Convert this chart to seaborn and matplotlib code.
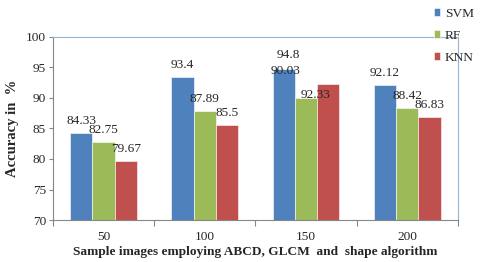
import numpy as np
import pandas as pd
import matplotlib
matplotlib.use("Agg")
import matplotlib.pyplot as plt
import seaborn as sns

# data
samples = ["50", "100", "150", "200"]
svm = [84.33, 93.4, 94.8, 92.12]
rf = [82.75, 87.89, 90.03, 88.42]
knn = [79.67, 85.5, 92.33, 86.83]
methods = ["SVM", "RF", "KNN"]
colors = ["#4F81BD", "#9BBB59", "#C0504D"]
yticks = [70, 75, 80, 85, 90, 95, 100]

sns.set_style("white")
plt.rcParams['font.family'] = ['Liberation Serif', 'DejaVu Serif']
plt.rcParams['font.size'] = 9.6

df = pd.DataFrame({
    "sample": samples * 3,
    "method": [m for m in methods for _ in samples],
    "acc": svm + rf + knn,
})

fig = plt.figure(figsize=(4.8, 2.62), dpi=100)
ax = fig.add_axes([0.1104, 0.1603, 0.8436, 0.6985])

sns.barplot(data=df, x="sample", y="acc", hue="method", order=samples,
            hue_order=methods, palette=colors, width=0.66, gap=0,
            saturation=1, edgecolor="white", linewidth=0.4, ax=ax)

ax.set_ylim(70, 100)
ax.set_xlim(-0.5, len(samples) - 0.5)
ax.set_yticks(yticks)

# value labels (the 150 group is labelled oddly in the original)
labels = [[f"{v:g}" for v in s] for s in (svm, rf, knn)]
for ci, cont in enumerate(ax.containers):
    for gi, bar in enumerate(cont):
        xc = bar.get_x() + bar.get_width() / 2
        top = bar.get_height()
        if samples[gi] == "150":
            if ci == 0:
                ax.annotate(labels[0][gi], (xc, top), xytext=(3, 7.5),
                            textcoords="offset points", ha="center", va="baseline")
                ax.annotate(labels[1][gi], (xc, top), xytext=(1, -4),
                            textcoords="offset points", ha="center", va="baseline")
            elif ci == 1:
                ax.annotate(labels[2][gi], (xc, top), xytext=(6.5, 0),
                            textcoords="offset points", ha="center", va="baseline")
            continue
        ax.annotate(labels[ci][gi], (xc, top), xytext=(0, 6.5),
                    textcoords="offset points", ha="center", va="baseline")

# axes styling, Excel-like
for side in ["left", "bottom"]:
    ax.spines[side].set_color("#868686")
    ax.spines[side].set_linewidth(0.8)
for side in ["top", "right"]:
    ax.spines[side].set_color("#95B3D7")
    ax.spines[side].set_linewidth(0.8)

ax.tick_params(axis="y", direction="out", length=3, width=0.8,
               color="#868686", left=True, pad=2)
ax.set_xticks(np.arange(len(samples)))
ax.set_xticklabels(samples)
ax.set_xticks(np.arange(len(samples) + 1) - 0.5, minor=True)
ax.tick_params(axis="x", which="major", length=0, pad=8)
ax.tick_params(axis="x", which="minor", direction="out", length=4,
               width=0.8, color="#868686", bottom=True)

ax.set_ylabel("Accuracy in  %", fontweight="bold", fontsize=10.5, labelpad=5)
ax.set_xlabel("Sample images employing ABCD, GLCM  and  shape algorithm",
              fontweight="bold", labelpad=2)

ax.legend(loc="upper left", bbox_to_anchor=(0.905, 0.97),
          bbox_transform=fig.transFigure, frameon=False, fontsize=9.6,
          handlelength=0.45, handleheight=0.5, handletextpad=0.35,
          labelspacing=0.75, borderpad=0, borderaxespad=0)

plt.savefig("out.png", dpi=100)
plt.close()
